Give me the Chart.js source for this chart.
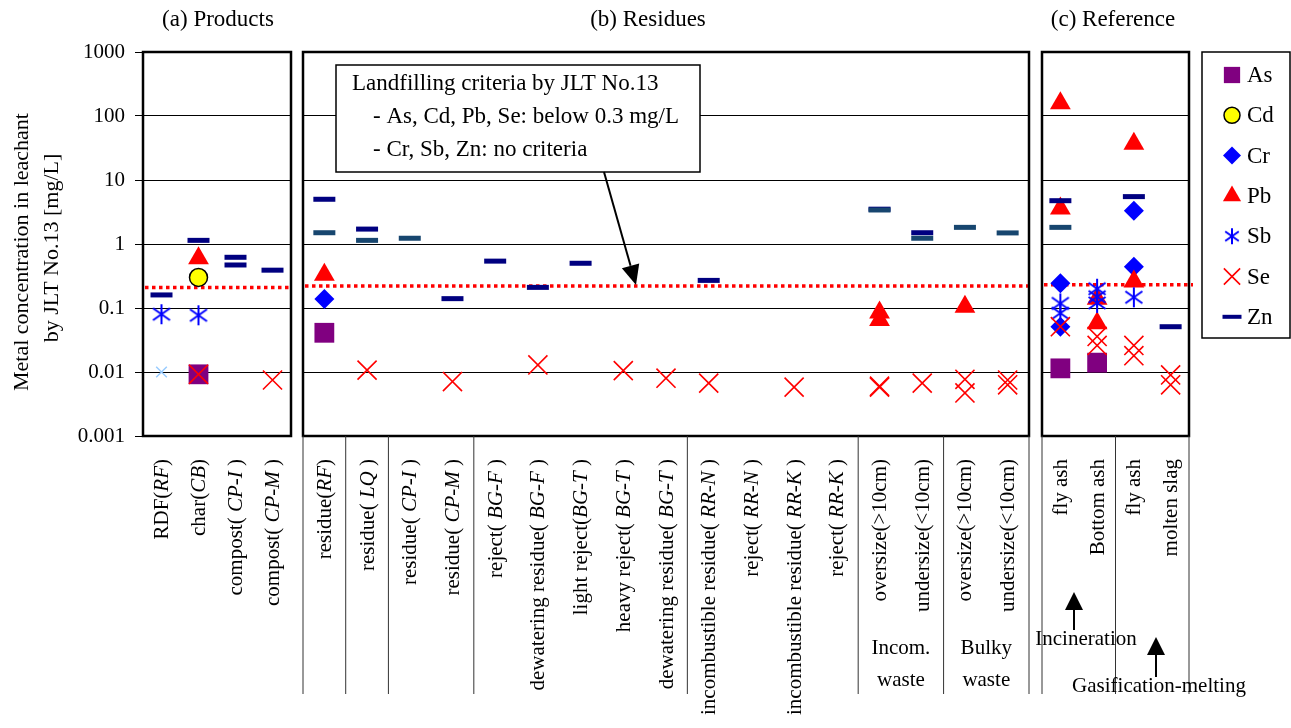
<!DOCTYPE html>
<html>
<head>
<meta charset="utf-8">
<title>Metal concentration in leachant by JLT No.13</title>
<script src="https://cdn.jsdelivr.net/npm/chart.js@4.4.0/dist/chart.umd.min.js"></script>
<style>
  body { margin: 0; background: #fff; overflow: hidden; }
  .stage { position: relative; width: 1291px; height: 728px; }
  .stage canvas { position: absolute; left: 0; top: 0; }
</style>
</head>
<body>
<div class="stage">
  <canvas id="chartA" width="1291" height="728"></canvas>
  <canvas id="chartB" width="1291" height="728"></canvas>
  <canvas id="chartC" width="1291" height="728"></canvas>
</div>
<script>
const serif = "'Liberation Serif', 'Times New Roman', serif";

// categories of the three panels
const productCats = ['RDF(RF)', 'char(CB)', 'compost( CP-I )', 'compost( CP-M )'];
const residueCats = ['residue(RF)', 'residue( LQ )', 'residue( CP-I )', 'residue( CP-M )',
  'reject( BG-F )', 'dewatering residue( BG-F )', 'light reject(BG-T )', 'heavy reject( BG-T )',
  'dewatering residue( BG-T )', 'incombustible residue( RR-N )', 'reject( RR-N )',
  'incombustible residue( RR-K )', 'reject( RR-K )',
  'oversize(>10cm)', 'undersize(<10cm)', 'oversize(>10cm)', 'undersize(<10cm)'];
const referenceCats = ['fly ash', 'Bottom ash', 'fly ash', 'molten slag'];

// category groups (separator lines under the residues / reference panels)
const residueGroups = [[0, 0], [1, 1], [2, 3], [4, 8], [9, 12], [13, 14], [15, 16]];
const referenceGroups = [[0, 1], [2, 3]];

const yTicks = [0.001, 0.01, 0.1, 1, 10, 100, 1000];
const yTickLabels = ['0.001', '0.01', '0.1', '1', '10', '100', '1000'];

// landfilling criterion line as plotted in panels a, b, c
const criteriaLevels = [0.21, 0.22, 0.23];

// measured values: [panel, category index, mg/L]
const asVals = [['a', 1, 0.0092], ['b', 0, 0.041], ['c', 0, 0.0114], ['c', 1, 0.014]];
const cdVals = [['a', 1, 0.30]];
const crVals = [['b', 0, 0.138], ['c', 0, 0.243], ['c', 0, 0.051], ['c', 2, 3.3], ['c', 2, 0.44]];
const pbVals = [['a', 1, 0.60], ['b', 0, 0.33], ['b', 13, 0.085], ['b', 13, 0.065], ['b', 15, 0.105],
  ['c', 0, 158], ['c', 0, 3.6], ['c', 1, 0.14], ['c', 1, 0.058], ['c', 2, 37], ['c', 2, 0.26]];
const sbVals = [['a', 0, 0.080], ['a', 1, 0.077], ['c', 0, 0.118], ['c', 0, 0.083],
  ['c', 1, 0.20], ['c', 1, 0.15], ['c', 1, 0.12], ['c', 2, 0.147]];
const seVals = [['a', 1, 0.0092], ['a', 3, 0.0075], ['b', 1, 0.0107], ['b', 3, 0.0071],
  ['b', 5, 0.0129], ['b', 7, 0.0105], ['b', 8, 0.0080], ['b', 9, 0.0067], ['b', 11, 0.0058],
  ['b', 13, 0.0060], ['b', 13, 0.0058], ['b', 14, 0.0067], ['b', 15, 0.0077], ['b', 15, 0.0047],
  ['b', 16, 0.0075], ['b', 16, 0.0063], ['c', 0, 0.051], ['c', 1, 0.036], ['c', 1, 0.026],
  ['c', 2, 0.026], ['c', 2, 0.018], ['c', 3, 0.0090], ['c', 3, 0.0063]];
const znVals = [['a', 0, 0.16], ['a', 1, 1.14], ['a', 2, 0.62], ['a', 2, 0.47], ['a', 3, 0.39],
  ['b', 0, 5.0], ['b', 1, 1.71], ['b', 3, 0.14], ['b', 4, 0.54], ['b', 5, 0.21], ['b', 6, 0.50],
  ['b', 9, 0.27], ['b', 13, 3.5], ['b', 14, 1.5], ['c', 0, 4.75], ['c', 2, 5.5], ['c', 3, 0.051]];
const znVals2 = [['b', 0, 1.5], ['b', 1, 1.14], ['b', 2, 1.23], ['b', 13, 3.4], ['b', 14, 1.23],
  ['b', 15, 1.82], ['b', 16, 1.49], ['c', 0, 1.82]];
const ndVals = [['a', 0, 0.010]];

// asterisk marker for Sb
function asterisk(size, color) {
  const c = document.createElement('canvas');
  c.width = size; c.height = size;
  const g = c.getContext('2d');
  const m = size / 2, r = size / 2 - 1;
  g.strokeStyle = color;
  g.lineWidth = 2;
  g.beginPath();
  g.moveTo(m, m - r); g.lineTo(m, m + r);
  g.moveTo(m - r * 0.85, m - r * 0.6); g.lineTo(m + r * 0.85, m + r * 0.6);
  g.moveTo(m + r * 0.85, m - r * 0.6); g.lineTo(m - r * 0.85, m + r * 0.6);
  g.stroke();
  return c;
}

const series = [
  { label: 'As', vals: asVals, pointStyle: 'rect', radius: 14, bg: '#800080', border: '#800080', bw: 0, legendRadius: 11.5 },
  { label: 'Cd', vals: cdVals, pointStyle: 'circle', radius: 9, bg: '#FFFF00', border: '#000000', bw: 1.5, legendRadius: 8 },
  { label: 'Cr', vals: crVals, pointStyle: 'rectRot', radius: 10, bg: '#0000FF', border: '#0000FF', bw: 0, legendRadius: 9 },
  { label: 'Pb', vals: pbVals, pointStyle: 'triangle', radius: 12, bg: '#FF0000', border: '#FF0000', bw: 0, legendRadius: 10.5 },
  { label: 'Sb', vals: sbVals, pointStyle: asterisk(22, '#0000FF'), radius: 11, bg: '#0000FF', border: '#0000FF', bw: 2, legendStyle: asterisk(18, '#0000FF') },
  { label: 'Se', vals: seVals, pointStyle: 'crossRot', radius: 13.5, bg: '#FF0000', border: '#FF0000', bw: 1.6, legendRadius: 11.5 },
  { label: 'Zn', vals: znVals, pointStyle: 'line', radius: 11, bg: '#000080', border: '#000080', bw: 5, legendRadius: 9.5, legendBw: 4 },
  { label: 'Zn', vals: znVals2, pointStyle: 'line', radius: 11, bg: '#17466f', border: '#17466f', bw: 5, noLegend: true },
  { label: 'n.d.', vals: ndVals, pointStyle: 'crossRot', radius: 7.5, bg: '#99CCFF', border: '#99CCFF', bw: 1.5, noLegend: true }
];

function datasetsFor(panel) {
  return series.map((s, i) => ({
    label: s.label,
    data: s.vals.filter(v => v[0] === panel).map(v => ({ x: v[1], y: v[2] })),
    showLine: false,
    pointStyle: s.pointStyle,
    pointRadius: s.radius,
    pointHoverRadius: s.radius,
    pointBackgroundColor: s.bg,
    pointBorderColor: s.border,
    pointBorderWidth: s.bw,
    order: series.length - i
  }));
}

function labelParts(label) {
  const m = label.match(/^(.*\()(\s*)([A-Z][A-Z\-]*)(\s*\))$/);
  if (!m) return [[label, false]];
  return [[m[1] + m[2], false], [m[3], true], [m[4], false]];
}

function drawText(ctx, text, x, y, size, align) {
  ctx.font = size + 'px ' + serif;
  ctx.fillStyle = '#000';
  ctx.textAlign = align || 'center';
  ctx.textBaseline = 'middle';
  ctx.fillText(text, x, y);
}

function arrow(ctx, x1, y1, x2, y2, head, half) {
  const a = Math.atan2(y2 - y1, x2 - x1);
  const bx = x2 - Math.cos(a) * head, by = y2 - Math.sin(a) * head;
  ctx.strokeStyle = '#000';
  ctx.fillStyle = '#000';
  ctx.lineWidth = 2;
  ctx.beginPath();
  ctx.moveTo(x1, y1); ctx.lineTo(bx, by);
  ctx.stroke();
  ctx.beginPath();
  ctx.moveTo(x2, y2);
  ctx.lineTo(bx + Math.sin(a) * half, by - Math.cos(a) * half);
  ctx.lineTo(bx - Math.sin(a) * half, by + Math.cos(a) * half);
  ctx.closePath();
  ctx.fill();
}

function panelPlugin(p) {
  return {
    id: 'panel_' + p.key,
    beforeDatasetsDraw(chart) {
      const ctx = chart.ctx, area = chart.chartArea;
      const y = chart.scales.y.getPixelForValue(p.level);
      ctx.save();
      ctx.strokeStyle = '#FF0000';
      ctx.lineWidth = 3.5;
      ctx.setLineDash([3.5, 3.5]);
      ctx.beginPath();
      ctx.moveTo(area.left + 2, y);
      ctx.lineTo(area.right + (p.key === 'c' ? 4 : 0), y);
      ctx.stroke();
      ctx.restore();
    },
    afterDraw(chart) {
      const ctx = chart.ctx, area = chart.chartArea, xs = chart.scales.x;
      ctx.save();
      // frame
      ctx.strokeStyle = '#000';
      ctx.lineWidth = 2.5;
      ctx.strokeRect(area.left, area.top, area.right - area.left, area.bottom - area.top);
      // panel title
      drawText(ctx, p.title, p.titleX, 20, 23);
      // separators under the panel
      ctx.lineWidth = 1;
      ctx.strokeStyle = '#333';
      (p.groups || []).forEach((g, i) => {
        const xs0 = xs.getPixelForValue(g[0] - 0.5), xs1 = xs.getPixelForValue(g[1] + 0.5);
        ctx.beginPath();
        if (i === 0) { ctx.moveTo(xs0, area.bottom); ctx.lineTo(xs0, 694); }
        ctx.moveTo(xs1, area.bottom); ctx.lineTo(xs1, 694);
        ctx.stroke();
      });
      // rotated category labels
      p.cats.forEach((label, i) => {
        const parts = labelParts(label);
        ctx.save();
        ctx.translate(xs.getPixelForValue(i), 459);
        ctx.rotate(-Math.PI / 2);
        ctx.textBaseline = 'middle';
        ctx.textAlign = 'left';
        ctx.fillStyle = '#000';
        let w = 0;
        parts.forEach(s => {
          ctx.font = (s[1] ? 'italic ' : '') + '21px ' + serif;
          w += ctx.measureText(s[0]).width;
        });
        let x = -w;
        parts.forEach(s => {
          ctx.font = (s[1] ? 'italic ' : '') + '21px ' + serif;
          ctx.fillText(s[0], x, 1);
          x += ctx.measureText(s[0]).width;
        });
        ctx.restore();
      });
      if (p.extra) p.extra(chart, ctx);
      ctx.restore();
    }
  };
}

function makeChart(id, p) {
  return new Chart(document.getElementById(id), {
    type: 'scatter',
    data: { datasets: datasetsFor(p.key) },
    options: {
      responsive: false,
      animation: false,
      devicePixelRatio: 1,
      layout: { padding: p.padding },
      plugins: { legend: { display: false }, tooltip: { enabled: false } },
      scales: {
        x: { type: 'linear', display: false, min: -0.5, max: p.cats.length - 0.5 },
        y: {
          type: 'logarithmic',
          min: 0.001,
          max: 1000,
          afterBuildTicks: s => { s.ticks = yTicks.map(v => ({ value: v })); },
          afterFit: s => { s.width = p.axisWidth; },
          border: { display: false },
          grid: { color: '#000', lineWidth: 1, drawTicks: p.showTicks, tickLength: 8 },
          ticks: {
            display: p.showTicks,
            padding: 10,
            color: '#000',
            font: { family: serif, size: 21 },
            callback: (v) => yTickLabels[yTicks.indexOf(v)]
          }
        }
      }
    },
    plugins: [panelPlugin(p)]
  });
}

makeChart('chartA', {
  key: 'a', cats: productCats, level: criteriaLevels[0], title: '(a) Products', titleX: 218,
  padding: { left: 0, right: 1000, top: 52, bottom: 292 }, axisWidth: 143, showTicks: true,
  extra(chart, ctx) {
    const area = chart.chartArea;
    const cy = (area.top + area.bottom) / 2 + 8;
    ctx.save();
    ctx.translate(22, cy);
    ctx.rotate(-Math.PI / 2);
    drawText(ctx, 'Metal concentration in leachant', 0, 0, 22);
    ctx.restore();
    ctx.save();
    ctx.translate(52, cy - 4);
    ctx.rotate(-Math.PI / 2);
    drawText(ctx, 'by JLT No.13 [mg/L]', 0, 0, 22);
    ctx.restore();
  }
});

makeChart('chartB', {
  key: 'b', cats: residueCats, groups: residueGroups, level: criteriaLevels[1], title: '(b) Residues', titleX: 648,
  padding: { left: 303, right: 262, top: 52, bottom: 292 }, axisWidth: 0, showTicks: false,
  extra(chart, ctx) {
    const xs = chart.scales.x;
    // criteria note
    ctx.fillStyle = '#fff';
    ctx.fillRect(336, 65, 364, 107);
    ctx.strokeStyle = '#000';
    ctx.lineWidth = 1.5;
    ctx.strokeRect(336, 65, 364, 107);
    drawText(ctx, 'Landfilling criteria by JLT No.13', 352, 84, 23, 'left');
    drawText(ctx, '- As, Cd, Pb, Se: below 0.3 mg/L', 373, 117, 23, 'left');
    drawText(ctx, '- Cr, Sb, Zn: no criteria', 373, 150, 23, 'left');
    arrow(ctx, 604, 172, 636, chart.scales.y.getPixelForValue(criteriaLevels[1]) - 1, 20, 9);
    // waste type labels
    const incX = (xs.getPixelForValue(13) + xs.getPixelForValue(14)) / 2;
    const bulX = (xs.getPixelForValue(15) + xs.getPixelForValue(16)) / 2;
    drawText(ctx, 'Incom.', incX, 648, 21);
    drawText(ctx, 'waste', incX, 680, 21);
    drawText(ctx, 'Bulky', bulX, 648, 21);
    drawText(ctx, 'waste', bulX, 680, 21);
  }
});

makeChart('chartC', {
  key: 'c', cats: referenceCats, groups: referenceGroups, level: criteriaLevels[2], title: '(c) Reference', titleX: 1113,
  padding: { left: 1042, right: 102, top: 52, bottom: 292 }, axisWidth: 0, showTicks: false,
  extra(chart, ctx) {
    arrow(ctx, 1074, 630, 1074, 592, 18, 9);
    drawText(ctx, 'Incineration', 1086, 639, 21);
    arrow(ctx, 1156, 677, 1156, 637, 18, 9);
    drawText(ctx, 'Gasification-melting', 1159, 686, 21);
    // legend
    ctx.strokeStyle = '#000';
    ctx.lineWidth = 1.5;
    ctx.strokeRect(1202, 52, 88, 286);
    series.filter(s => !s.noLegend).forEach((s, i) => {
      const y = 75 + i * 40.3;
      ctx.save();
      ctx.fillStyle = s.bg;
      ctx.strokeStyle = s.border;
      ctx.lineWidth = s.legendBw || s.bw;
      Chart.helpers.drawPoint(ctx, {
        pointStyle: s.legendStyle || s.pointStyle,
        radius: s.legendRadius || 8,
        borderWidth: s.legendBw || s.bw,
        rotation: 0
      }, 1232, y);
      ctx.restore();
      drawText(ctx, s.label, 1247, y + 1, 23, 'left');
    });
  }
});
</script>
</body>
</html>
